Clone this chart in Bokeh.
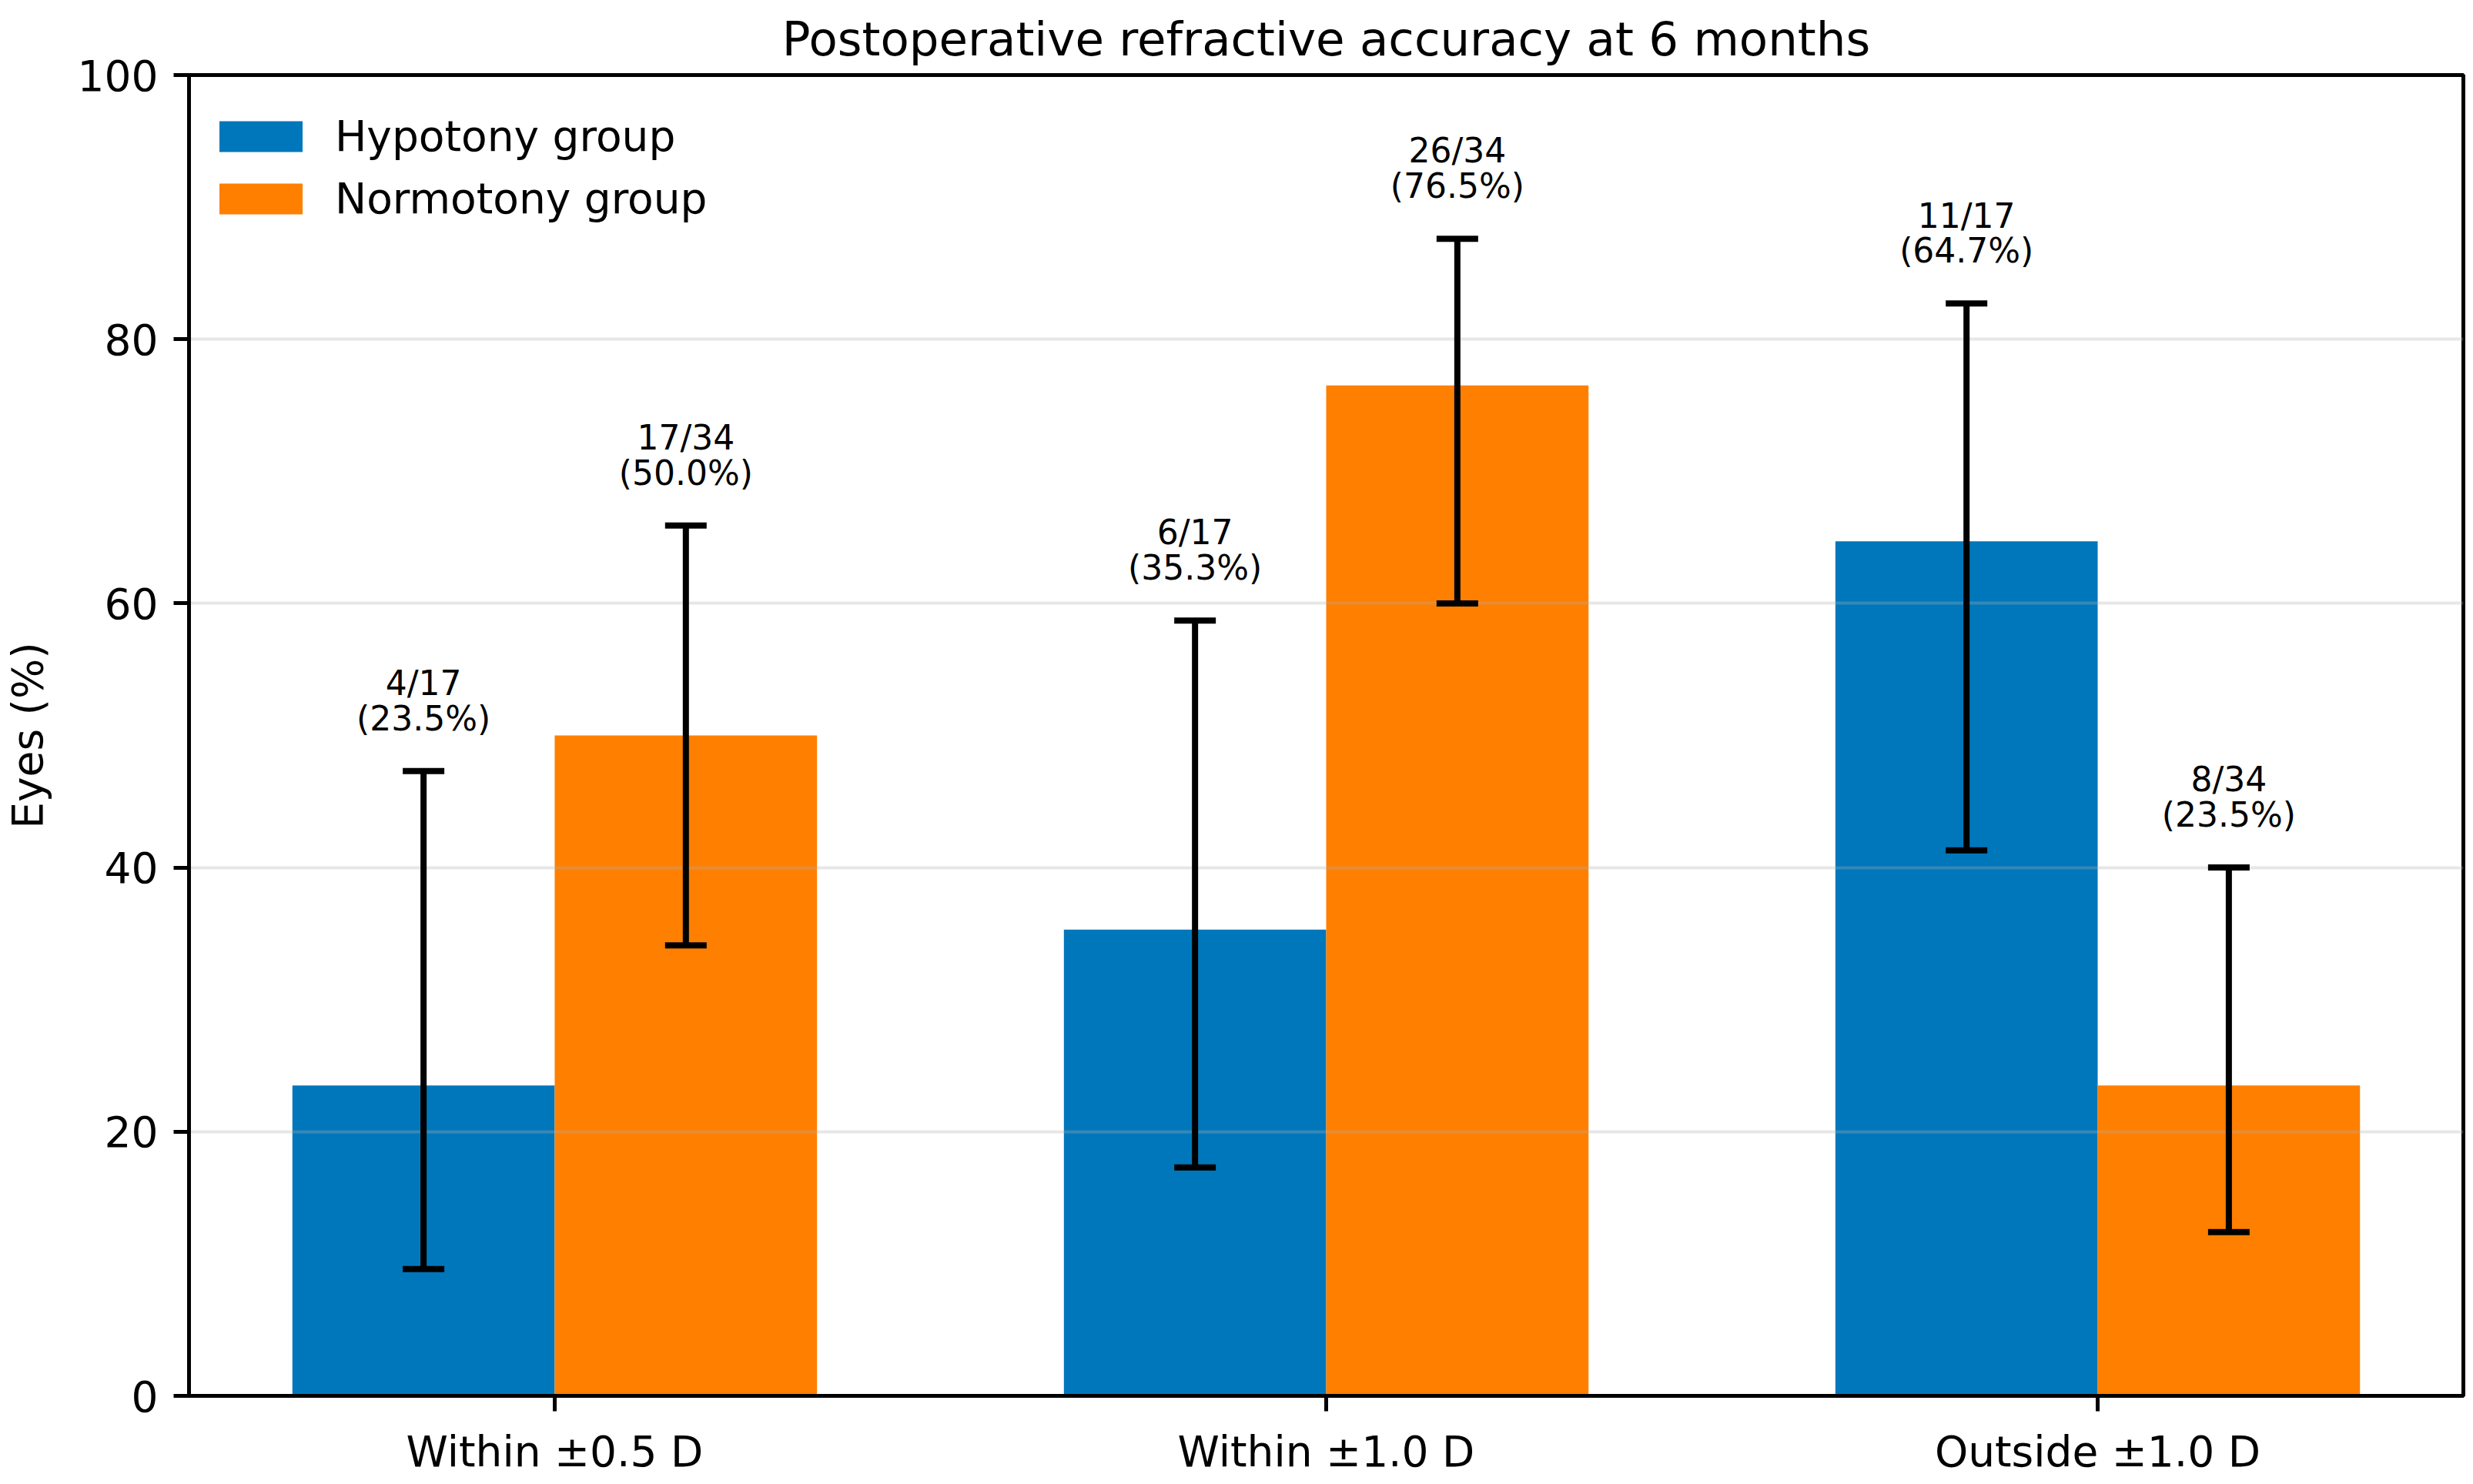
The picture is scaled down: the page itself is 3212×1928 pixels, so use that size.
import numpy as np
from bokeh.plotting import figure
from bokeh.models import Range1d, FixedTicker, Whisker, ColumnDataSource, TeeHead
from bokeh.core.properties import value
from bokeh.embed import file_html
from bokeh.resources import INLINE

# ---- data ----
categories = ["Within ±0.5 D", "Within ±1.0 D", "Outside ±1.0 D"]
groups = ["Hypotony group", "Normotony group"]

hypo_n = [4, 6, 11]
hypo_total = 17
hypo_pct = [23.5, 35.3, 64.7]
hypo_lo = [9.6, 17.3, 41.3]
hypo_hi = [47.3, 58.7, 82.7]

norm_n = [17, 26, 8]
norm_total = 34
norm_pct = [50.0, 76.5, 23.5]
norm_lo = [34.1, 60.0, 12.4]
norm_hi = [65.9, 87.6, 40.0]

y_ticks = [0, 20, 40, 60, 80, 100]

# ---- styling ----
FONT = "DejaVu Sans"
BLUE = "#0077BB"
ORANGE = "#FF7F00"
BAR_W = 0.34
LABEL_GAP = 2.5
FRAME_W, FRAME_H = 2954, 1716

idx = np.arange(len(categories))


def make_source(offset, n, total, pct, lo, hi):
    labels = [f"{a}/{total}\n({b:.1f}%)" for a, b in zip(n, pct)]
    return ColumnDataSource(dict(
        x=idx + offset,
        top=pct,
        lo=lo,
        hi=hi,
        ty=[h + LABEL_GAP for h in hi],
        label=labels,
    ))


src_h = make_source(-BAR_W / 2, hypo_n, hypo_total, hypo_pct, hypo_lo, hypo_hi)
src_n = make_source(BAR_W / 2, norm_n, norm_total, norm_pct, norm_lo, norm_hi)

p = figure(
    frame_width=FRAME_W, frame_height=FRAME_H,
    min_border_left=230, min_border_top=97, min_border_right=12, min_border_bottom=99,
    x_range=Range1d(-0.474, 2.474), y_range=Range1d(0, 100),
    output_backend="svg", toolbar_location=None,
    title="Postoperative refractive accuracy at 6 months",
)
p.background_fill_color = "white"
p.border_fill_color = "white"
p.outline_line_color = "black"
p.outline_line_width = 5

p.title.align = "center"
p.title.text_font = FONT
p.title.text_font_size = "61px"
p.title.text_font_style = "normal"
p.title.text_color = "black"
p.title.standoff = 24

for ax in (p.xaxis[0], p.yaxis[0]):
    ax.axis_line_color = "black"
    ax.axis_line_width = 5
    ax.major_tick_line_color = "black"
    ax.major_tick_line_width = 5
    ax.major_tick_out = 20
    ax.major_tick_in = 0
    ax.minor_tick_line_color = None
    ax.major_label_text_font = FONT
    ax.major_label_text_font_size = "55px"
    ax.major_label_text_color = "black"
    ax.major_label_standoff = 20
    ax.axis_label_text_font = FONT
    ax.axis_label_text_font_size = "55px"
    ax.axis_label_text_font_style = "normal"
    ax.axis_label_text_color = "black"

p.xaxis.ticker = FixedTicker(ticks=list(idx))
p.xaxis.major_label_overrides = {int(i): c for i, c in zip(idx, categories)}
p.yaxis.ticker = FixedTicker(ticks=y_ticks)
p.yaxis.axis_label = "Eyes (%)"
p.yaxis.axis_label_standoff = 30

p.xgrid.visible = False
p.ygrid.grid_line_color = "#b0b0b0"
p.ygrid.grid_line_alpha = 0.3
p.ygrid.grid_line_width = 4

r_h = p.vbar(x="x", top="top", bottom=0, width=BAR_W, source=src_h,
             fill_color=BLUE, line_color=None, legend_label=groups[0], level="image")
r_n = p.vbar(x="x", top="top", bottom=0, width=BAR_W, source=src_n,
             fill_color=ORANGE, line_color=None, legend_label=groups[1], level="image")

for src in (src_h, src_n):
    w = Whisker(source=src, base="x", upper="hi", lower="lo",
                line_color="black", line_width=8, level="annotation",
                upper_head=TeeHead(size=54, line_width=8, line_color="black"),
                lower_head=TeeHead(size=54, line_width=8, line_color="black"))
    p.add_layout(w)
    p.text(x="x", y="ty", text="label", source=src,
           text_align="center", text_baseline="bottom",
           text_font=value(FONT), text_font_size="44px",
           text_color="black", text_line_height=0.9)

lg = p.legend[0]
LEG_H = 2 * 72 + 9
lg.location = (26, FRAME_H - 44 - LEG_H)
lg.border_line_color = None
lg.background_fill_alpha = 0
lg.margin = 0
lg.padding = 0
lg.glyph_width = 135
lg.glyph_height = 50
lg.label_height = 72
lg.label_standoff = 29
lg.spacing = 9
lg.label_text_font = FONT
lg.label_text_font_size = "55px"
lg.label_text_color = "black"

open("out.html", "w").write(file_html(p, INLINE))
